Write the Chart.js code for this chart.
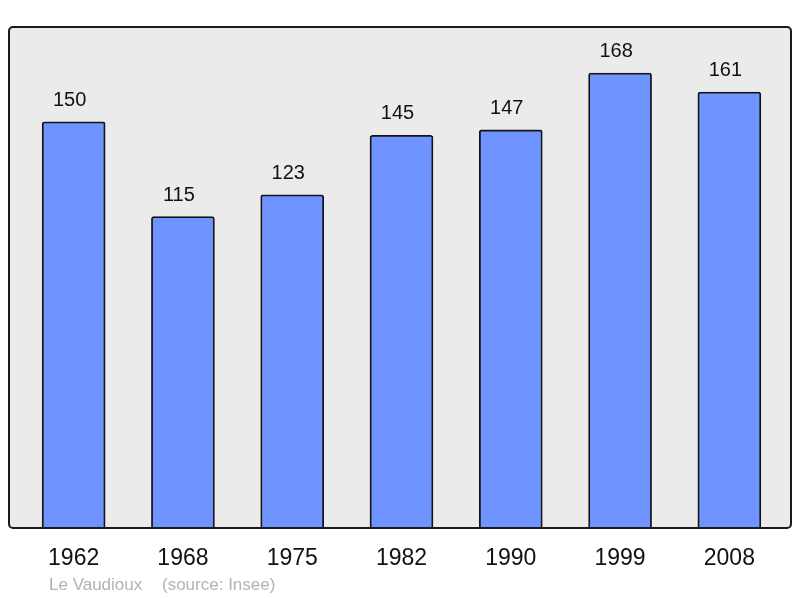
<!DOCTYPE html>
<html><head><meta charset="utf-8">
<script src="https://cdn.jsdelivr.net/npm/chart.js@4"></script>
<style>
html,body{margin:0;padding:0;background:#fff;}
#wrap{position:relative;width:800px;height:598px;}
.foot{position:absolute;top:575px;font-family:"Liberation Sans",Arial,sans-serif;font-size:17px;line-height:20px;color:#b3b3b3;white-space:pre;}
</style></head>
<body>
<div id="wrap"><canvas id="c" width="800" height="598"></canvas>
<div class="foot" style="left:49px">Le Vaudioux</div><div class="foot" style="left:162px">(source: Insee)</div></div>
<script>
const years = ["1962","1968","1975","1982","1990","1999","2008"];
const population = [150,115,123,145,147,168,161];

const framePlugin = {
  id:'frame',
  beforeDraw(chart){
    const {ctx, chartArea:a} = chart;
    const l=a.left-10, r=a.right+7, t=a.top, b=a.bottom;
    ctx.save();
    ctx.beginPath();
    ctx.roundRect(l,t,r-l,b-t,4);
    ctx.fillStyle='#ebebeb';
    ctx.fill();
    ctx.restore();
  },
  afterDatasetsDraw(chart){
    const {ctx, chartArea:a} = chart;
    const l=a.left-10, r=a.right+7, t=a.top, b=a.bottom;
    ctx.save();
    ctx.beginPath();
    ctx.roundRect(l,t,r-l,b-t,4);
    ctx.lineWidth=2;
    ctx.strokeStyle='#1a1a1a';
    ctx.stroke();
    const meta = chart.getDatasetMeta(0);
    ctx.fillStyle='#111';
    ctx.font='20px "Liberation Sans", Arial, sans-serif';
    ctx.textAlign='center';
    ctx.textBaseline='middle';
    meta.data.forEach((bar,i)=>{
      ctx.fillText(String(population[i]), bar.x-4, bar.y-21.5);
    });
    ctx.restore();
  }
};

new Chart(document.getElementById('c'),{
  type:'bar',
  data:{labels:years,datasets:[{data:population,backgroundColor:'#7094ff',borderColor:'#141414',borderWidth:1.8,borderRadius:2.5,borderSkipped:'bottom',barThickness:63}]},
  options:{
    responsive:false,animation:false,
    layout:{padding:{left:19,right:16,top:27,bottom:0}},
    plugins:{legend:{display:false},tooltip:{enabled:false}},
    scales:{
      x:{offset:true,grid:{display:false,drawTicks:false},border:{display:false},
         ticks:{color:'#111',font:{size:23,family:'"Liberation Sans", Arial, sans-serif'},padding:16.5,maxRotation:0},
         afterFit(s){s.height=70;}},
      y:{display:false,min:0,max:185}
    }
  },
  plugins:[framePlugin]
});
</script>
</body></html>
